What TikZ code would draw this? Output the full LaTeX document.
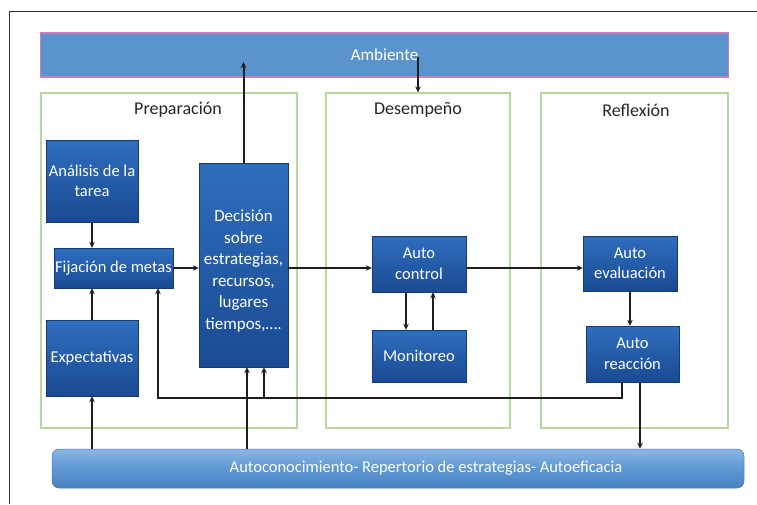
\documentclass[tikz,border=0pt]{standalone}
\usepackage{fontspec}
\setmainfont{Carlito}
\usetikzlibrary{arrows.meta}

\definecolor{boxtop}{HTML}{2F6EBE}
\definecolor{boxbot}{HTML}{1A4A93}
\definecolor{ambfill}{HTML}{5B93CF}
\definecolor{ambedge}{HTML}{C97DBE}
\definecolor{panel}{HTML}{B8D79E}
\definecolor{basetop}{HTML}{8AB7E4}
\definecolor{basemid}{HTML}{5E97D3}
\definecolor{basebot}{HTML}{4A82C0}
\definecolor{arrowc}{HTML}{1E1E1E}

\tikzset{
  stagebox/.style={draw=panel, line width=1.2pt, fill=white},
  stagetitle/.style={font=\fontsize{18}{20}\selectfont, text=black!85, anchor=center},
  procbox/.style={top color=boxtop, bottom color=boxbot, draw=boxbot!80!black, line width=0.4pt,
    text=white, align=center, inner sep=1pt,
    font=\fontsize{16.5}{20.5}\selectfont},
  flow/.style={draw=arrowc, line width=2pt, -{Stealth[length=6pt,width=5.5pt]}},
}

\begin{document}
\begin{tikzpicture}[x=1pt,y=-1pt]
  \useasboundingbox (0,0) rectangle (757,504);
  \fill[white] (0,0) rectangle (757,504);

  % outer frame (top and left edges)
  \draw[line width=1pt, black!80] (9,504) -- (9,11) -- (757,11);

  % environment bar
  \node[draw=ambedge, line width=1.4pt, fill=ambfill, minimum width=688pt, minimum height=44pt,
        text=white, font=\fontsize{17}{20}\selectfont] (amb) at (384.5,55) {Ambiente};

  % three phase panels
  \node[stagebox, minimum width=256pt, minimum height=335pt] (prep) at (169,260.5) {};
  \node[stagebox, minimum width=184pt, minimum height=335pt] (des) at (418,260.5) {};
  \node[stagebox, minimum width=187pt, minimum height=335pt] (ref) at (634.5,260.5) {};
  \node[stagetitle] (tprep) at (178,110) {Preparación};
  \node[stagetitle] (tdes) at (418,110) {Desempeño};
  \node[stagetitle] (tref) at (636,110) {Reflexión};

  % base bar with its caption
  \node[rounded corners=7pt, minimum width=692pt, minimum height=39pt,
        top color=basetop, bottom color=basebot, middle color=basemid,
        draw=basebot!90!black, line width=0.5pt] (base) at (398,468.5) {};
  \node[text=white, font=\fontsize{16.5}{20}\selectfont] (basetext) at (426,468.5)
        {Autoconocimiento- Repertorio de estrategias- Autoeficacia};

  % process boxes
  \node[procbox, minimum width=92pt, minimum height=82pt] (ana) at (92,181) {Análisis de la\\tarea};
  \node[procbox, minimum width=119pt, minimum height=40pt] (fij) at (113.5,268) {Fijación de metas};
  \node[procbox, minimum width=92pt, minimum height=76pt] (exp) at (92,358) {Expectativas};
  \node[procbox, minimum width=89pt, minimum height=204pt] (dec) at (243.5,265) {};
  \node[text=white, align=center, font=\fontsize{17}{21.5}\selectfont] (dectext) at (243.5,271)
        {Decisión\\sobre\\estrategias,\\recursos,\\lugares\\tiempos,….};
  \node[procbox, minimum width=94pt, minimum height=56pt] (ctl) at (419,264) {Auto\\control};
  \node[procbox, minimum width=94pt, minimum height=52pt] (mon) at (419,356) {Monitoreo};
  \node[procbox, minimum width=94pt, minimum height=55pt] (eva) at (630,263.5) {Auto\\evaluación};
  \node[procbox, minimum width=93pt, minimum height=56pt] (rea) at (632.5,354) {Auto\\reacción};

  % auxiliary points
  \coordinate (ambin) at (243.5,62);
  \coordinate (ambout) at (418,57);
  \coordinate (fbr) at (622,398);
  \coordinate (fbl) at (158,398);
  \coordinate (fbd) at (264,398);
  \coordinate (bdec) at (247,449);
  \coordinate (rbase) at (640,382);

  % links with the environment
  \draw[flow] (dec.north) -- (ambin);
  \draw[flow] (ambout) -- (des.north);

  % preparation phase
  \draw[flow] (ana.south) -- (ana.south |- fij.north);
  \draw[flow] (exp.north) -- (exp.north |- fij.south);
  \draw[flow] (fij.east) -- (fij.east -| dec.west);

  % performance and reflection
  \draw[flow] (dec.east |- fij) -- (ctl.west |- fij);
  \draw[flow] (ctl.east |- fij) -- (eva.west |- fij);
  \draw[flow] ([xshift=-13pt]ctl.south) -- ([xshift=-13pt]mon.north);
  \draw[flow] ([xshift=14pt]mon.north) -- ([xshift=14pt]ctl.south);
  \draw[flow] (eva.south) -- (eva.south |- rea.north);

  % feedback loop
  \draw[flow] (fbr |- rea.south) -- (fbr) -- (fbl) -- (fbl |- fij.south);
  \draw[flow] (fbd) -- (fbd |- dec.south);

  % links with the base
  \draw[flow] (exp.south |- base.north) -- (exp.south);
  \draw[flow] (bdec) -- (bdec |- dec.south);
  \draw[flow] (rbase) -- (rbase |- base.north);
\end{tikzpicture}
\end{document}
